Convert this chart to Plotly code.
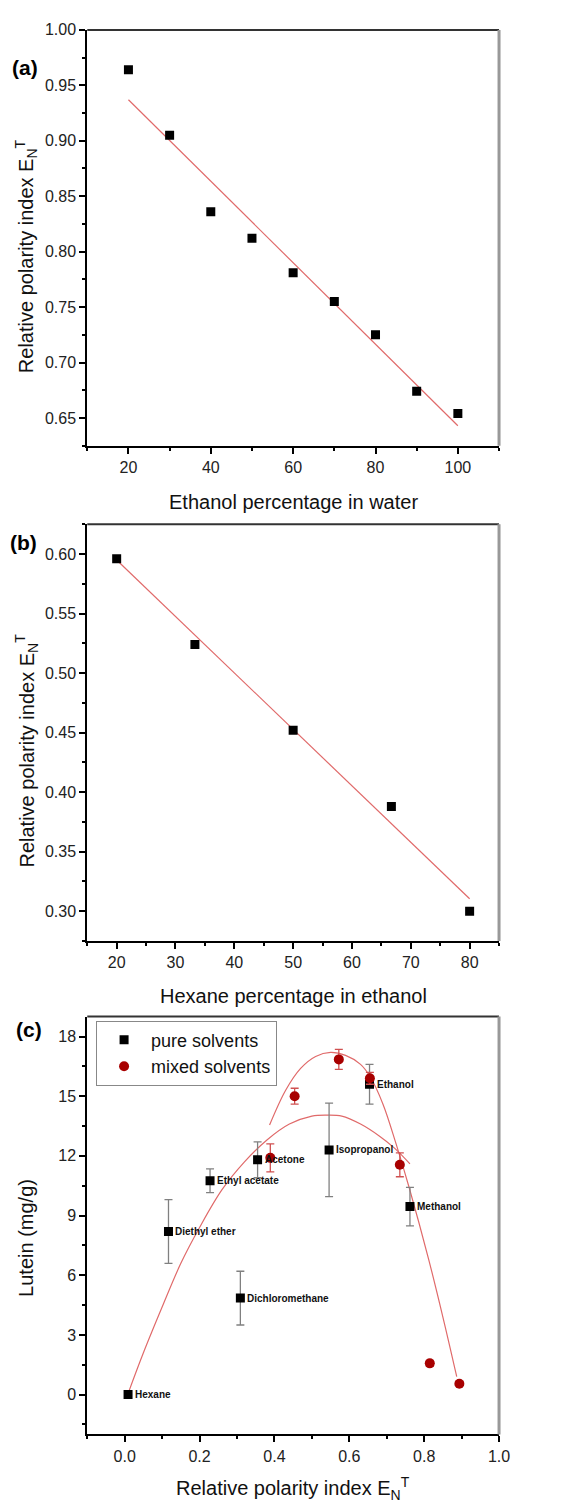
import plotly.graph_objects as go

W, H = 562, 1509
FONT = "Liberation Sans, Arial, sans-serif"

# ---------------- data ----------------
# (a) ethanol percentage in water
a_x = [20, 30, 40, 50, 60, 70, 80, 90, 100]
a_y = [0.964, 0.905, 0.836, 0.812, 0.781, 0.755, 0.725, 0.674, 0.654]
a_fit_x = [20, 100]
a_fit_y = [0.937, 0.643]

# (b) hexane percentage in ethanol
b_x = [20, 33.3, 50, 66.7, 80]
b_y = [0.596, 0.524, 0.452, 0.388, 0.300]
b_fit_x = [20, 80]
b_fit_y = [0.595, 0.3105]

# (c) lutein vs relative polarity
pure_names = ["Hexane", "Diethyl ether", "Ethyl acetate", "Dichloromethane",
              "Acetone", "Isopropanol", "Ethanol", "Methanol"]
pure_x = [0.009, 0.117, 0.228, 0.309, 0.355, 0.546, 0.654, 0.762]
pure_y = [0.0, 8.2, 10.75, 4.85, 11.8, 12.3, 15.6, 9.45]
pure_err = [0.0, 1.6, 0.6, 1.35, 0.9, 2.35, 1.0, 0.97]

mixed_x = [0.389, 0.454, 0.572, 0.655, 0.735, 0.815, 0.894]
mixed_y = [11.9, 15.0, 16.85, 15.9, 11.55, 1.57, 0.55]
mixed_err = [0.7, 0.4, 0.5, 0.3, 0.6, 0.15, 0.1]

# fitted curves
wide_x = [0.009, 0.05, 0.10, 0.15, 0.20, 0.26, 0.32, 0.38, 0.44, 0.50, 0.54, 0.58, 0.63, 0.68, 0.72, 0.762]
wide_y = [0.05, 2.1, 4.4, 6.6, 8.4, 10.3, 11.7, 12.8, 13.6, 14.0, 14.05, 14.0, 13.6, 13.0, 12.4, 11.6]
narrow_x = [0.387, 0.43, 0.47, 0.51, 0.55, 0.59, 0.63, 0.655, 0.69, 0.725, 0.76, 0.812, 0.85, 0.887]
narrow_y = [13.55, 15.3, 16.4, 17.0, 17.2, 17.05, 16.6, 16.0, 14.6, 12.6, 10.4, 6.8, 3.9, 0.9]

# ---------------- figure ----------------
FIT_COLOR = "#e06a6a"
fig = go.Figure()

fig.add_trace(go.Scatter(x=a_fit_x, y=a_fit_y, mode="lines", line=dict(color=FIT_COLOR, width=1.2),
                         xaxis="x", yaxis="y", showlegend=False))
fig.add_trace(go.Scatter(x=a_x, y=a_y, mode="markers", marker=dict(symbol="square", size=9, color="black"),
                         xaxis="x", yaxis="y", showlegend=False))

fig.add_trace(go.Scatter(x=b_fit_x, y=b_fit_y, mode="lines", line=dict(color=FIT_COLOR, width=1.2),
                         xaxis="x2", yaxis="y2", showlegend=False))
fig.add_trace(go.Scatter(x=b_x, y=b_y, mode="markers", marker=dict(symbol="square", size=9, color="black"),
                         xaxis="x2", yaxis="y2", showlegend=False))

fig.add_trace(go.Scatter(x=wide_x, y=wide_y, mode="lines", line=dict(color=FIT_COLOR, width=1.2, shape="spline"),
                         xaxis="x3", yaxis="y3", showlegend=False))
fig.add_trace(go.Scatter(x=narrow_x, y=narrow_y, mode="lines", line=dict(color=FIT_COLOR, width=1.2, shape="spline"),
                         xaxis="x3", yaxis="y3", showlegend=False))
fig.add_trace(go.Scatter(x=pure_x, y=pure_y, mode="markers", name="pure solvents",
                         marker=dict(symbol="square", size=9, color="black"),
                         error_y=dict(type="data", array=pure_err, color="#808080", thickness=1.3, width=4),
                         xaxis="x3", yaxis="y3"))
fig.add_trace(go.Scatter(x=mixed_x, y=mixed_y, mode="markers", name="mixed solvents",
                         marker=dict(symbol="circle", size=10, color="#a80000"),
                         error_y=dict(type="data", array=mixed_err, color="#d05050", thickness=1.3, width=4),
                         xaxis="x3", yaxis="y3"))

xdom = [89 / W, 509 / W]
def ydom(top, bottom):
    return [1 - bottom / H, 1 - top / H]

tickfont = dict(family=FONT, size=16, color="#222")
def axis_common(**kw):
    d = dict(showgrid=False, zeroline=False, showline=True, linecolor="black", linewidth=2,
             ticks="outside", ticklen=6, tickwidth=1.5, tickcolor="black", tickfont=tickfont)
    d.update(kw)
    return d

fig.update_layout(
    width=W, height=H, margin=dict(l=0, r=0, t=0, b=0),
    paper_bgcolor="white", plot_bgcolor="white",
    font=dict(family=FONT, color="black"),
    xaxis=axis_common(domain=xdom, anchor="y", range=[10, 110], tick0=20, dtick=20,
                      minor=dict(tick0=10, dtick=10, ticklen=3, tickcolor="black", ticks="outside")),
    yaxis=axis_common(domain=ydom(22, 440), anchor="x", range=[0.625, 1.0], tick0=0.65, dtick=0.05,
                      tickformat=".2f",
                      minor=dict(tick0=0.625, dtick=0.025, ticklen=3, tickcolor="black", ticks="outside")),
    xaxis2=axis_common(domain=xdom, anchor="y2", range=[15, 85], tick0=20, dtick=10,
                       minor=dict(tick0=15, dtick=5, ticklen=3, tickcolor="black", ticks="outside")),
    yaxis2=axis_common(domain=ydom(519, 938), anchor="x2", range=[0.275, 0.625], tick0=0.30, dtick=0.05,
                       tickformat=".2f",
                       minor=dict(tick0=0.275, dtick=0.025, ticklen=3, tickcolor="black", ticks="outside")),
    xaxis3=axis_common(domain=xdom, anchor="y3", range=[-0.1, 1.0], tick0=0, dtick=0.2, tickformat=".1f",
                       minor=dict(tick0=-0.1, dtick=0.1, ticklen=3, tickcolor="black", ticks="outside")),
    yaxis3=axis_common(domain=ydom(1014, 1434), anchor="x3", range=[-2, 19], tick0=0, dtick=3,
                       minor=dict(tick0=-1.5, dtick=1.5, ticklen=3, tickcolor="black", ticks="outside")),
    legend=dict(x=98 / W, y=1 - 1018 / H, xanchor="left", yanchor="top",
                bordercolor="#888", borderwidth=1, bgcolor="rgba(255,255,255,0)",
                itemwidth=44,
                font=dict(family=FONT, size=18, color="#111"), tracegroupgap=0),
)

# top / right frame lines
shapes = []
for xa, ya in [("x", "y"), ("x2", "y2"), ("x3", "y3")]:
    shapes.append(dict(type="line", xref=f"{xa} domain", yref=f"{ya} domain", x0=0, x1=1, y0=1, y1=1,
                       line=dict(color="#333", width=2)))
    shapes.append(dict(type="line", xref=f"{xa} domain", yref=f"{ya} domain", x0=1, x1=1, y0=0, y1=1,
                       line=dict(color="#999", width=3)))
fig.update_layout(shapes=shapes)

ann = []
title_font = dict(family=FONT, size=20, color="#111")
def paper_text(text, xp, yp, font, angle=0, xanchor="center"):
    ann.append(dict(text=text, x=xp / W, y=1 - yp / H, xref="paper", yref="paper",
                    showarrow=False, textangle=angle, xanchor=xanchor, yanchor="middle", font=font))

# axis titles
paper_text("Ethanol percentage in water", 299, 497, title_font)
paper_text("Hexane percentage in ethanol", 299, 993, title_font)
paper_text("Relative polarity index E<sub>N</sub><sup>T</sup>", 299, 1488, title_font)
paper_text("Relative polarity index E<sub>N</sub><sup>T</sup>", 27, 249, title_font, angle=-90)
paper_text("Relative polarity index E<sub>N</sub><sup>T</sup>", 27, 746, title_font, angle=-90)
paper_text("Lutein (mg/g)", 27, 1236, title_font, angle=-90)

# panel labels
lab_font = dict(family=FONT, size=21, color="black")
paper_text("<b>(a)</b>", 26, 60, lab_font)
paper_text("<b>(b)</b>", 24, 537, lab_font)
paper_text("<b>(c)</b>", 30, 1027, lab_font)

# solvent name labels
for name, xv, yv in zip(pure_names, pure_x, pure_y):
    ann.append(dict(text=f"<b>{name}</b>", x=xv, y=yv, xref="x3", yref="y3", showarrow=False,
                    xanchor="left", yanchor="middle", xshift=5,
                    font=dict(family=FONT, size=10, color="#111")))

fig.update_layout(annotations=ann)

fig.write_html("out.html")
